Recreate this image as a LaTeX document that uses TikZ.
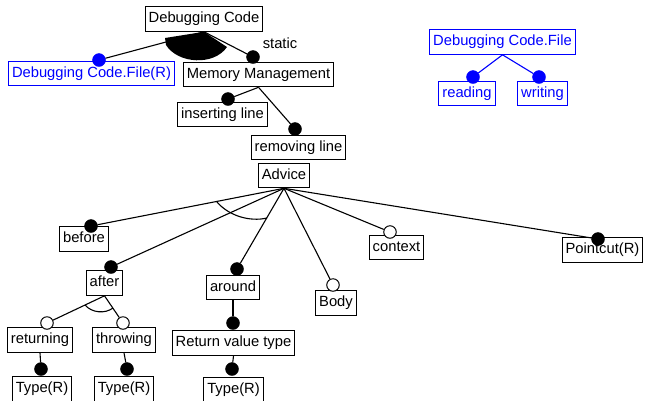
\documentclass[tikz,border=0pt]{standalone}
\usepackage{fontspec}
\setmainfont{Liberation Sans}
\usepackage{xcolor}
\usepackage{tikz}
\usetikzlibrary{calc}

\begin{document}
\begin{tikzpicture}[x=1bp,y=-1bp,
		feat/.style={draw,line width=1.1bp,rectangle,font=\fontsize{14.8}{17}\selectfont,text height=11bp,text depth=3.5bp,inner xsep=3.5bp,inner ysep=5bp},
		bfeat/.style={feat,draw=blue,text=blue},
		mand/.style={circle,fill=black,draw=black,inner sep=0pt,minimum size=13bp},
		opt/.style={circle,fill=white,draw=black,line width=1bp,inner sep=0pt,minimum size=12.5bp},
		bmand/.style={mand,fill=blue,draw=blue},
		edge/.style={line width=1.1bp}]
		\useasboundingbox (0,0) rectangle (646,400);
		% features
		\node[feat] (dc) at (204,19) {Debugging Code};
		\node[bfeat] (dcfr) at (91.5,73.5) {Debugging Code.File(R)};
		\node[feat] (mm) at (258.5,74.5) {Memory Management};
		\node[feat] (ins) at (222.5,114.5) {inserting line};
		\node[feat] (rem) at (298.5,147.5) {removing line};
		\node[feat] (adv) at (284,175.5) {Advice};
		\node[feat] (before) at (84,239) {before};
		\node[feat] (after) at (104.5,283) {after};
		\node[feat] (around) at (233,287.5) {around};
		\node[feat] (body) at (336,303) {Body};
		\node[feat] (context) at (396.5,247.5) {context};
		\node[feat] (pcut) at (602.5,250) {Pointcut(R)};
		\node[feat] (ret) at (40,340) {returning};
		\node[feat] (thr) at (124,340) {throwing};
		\node[feat] (rvt) at (233.5,343) {Return value type};
		\node[feat] (t1) at (42,389) {Type(R)};
		\node[feat] (t2) at (124,389) {Type(R)};
		\node[feat] (t3) at (233.5,390) {Type(R)};
		\node[bfeat] (dcf) at (502.5,42) {Debugging Code.File};
		\node[bfeat] (read) at (467,93.5) {reading};
		\node[bfeat] (write) at (542.5,93.5) {writing};
		\node[font=\fontsize{14.8}{17}\selectfont] (static) at (280,43) {static};
		% dots
		\node[bmand] (dcfr-d) at (99,60) {};
		\node[mand] (mm-d) at (253,57) {};
		\node[mand] (ins-d) at (228,99) {};
		\node[mand] (rem-d) at (295,129) {};
		\node[mand] (before-d) at (91,226) {};
		\node[mand] (after-d) at (111,267) {};
		\node[mand] (around-d) at (237,269) {};
		\node[opt] (body-d) at (333,285) {};
		\node[opt] (context-d) at (390,232) {};
		\node[mand] (pcut-d) at (598,239) {};
		\node[opt] (ret-d) at (47,323) {};
		\node[opt] (thr-d) at (123,323) {};
		\node[mand] (rvt-d) at (233,323) {};
		\node[mand] (t1-d) at (41,369) {};
		\node[mand] (t2-d) at (127,369) {};
		\node[mand] (t3-d) at (232,369) {};
		\node[bmand] (read-d) at (473,77) {};
		\node[bmand] (write-d) at (539,77) {};
		% connectors
		\fill (dc.south) -- (165,38) -- (166,45) .. controls (178,64) and (214,66) .. (227,47) -- cycle;
		\draw[edge] (dc.south) -- (dcfr-d);
		\draw[edge] (dc.south) -- (mm-d);
		\draw[edge] (mm.south) -- (ins-d);
		\draw[edge] (mm.south) -- (rem-d);
		\draw[edge] (adv.south) -- (before-d);
		\draw[edge] (adv.south) -- (after-d);
		\draw[edge] (adv.south) -- (around-d);
		\draw[edge] (adv.south) -- (body-d);
		\draw[edge] (adv.south) -- (context-d);
		\draw[edge] (adv.south) -- (pcut-d);
		\draw[edge] (217,202) .. controls (229,216) and (250,222) .. (267,218);
		\draw[edge] (after.south) -- (ret-d);
		\draw[edge] (after.south) -- (thr-d);
		\draw[edge] (85,305) .. controls (92,313) and (105,314) .. (113,308);
		\draw[edge] (ret.south) -- (t1-d);
		\draw[edge] (thr.south) -- (t2-d);
		\draw[edge] (around.south) -- (rvt-d);
		\draw[edge] (rvt.south) -- (t3-d);
		\draw[edge,blue] (dcf.south) -- (read-d);
		\draw[edge,blue] (dcf.south) -- (write-d);
	\end{tikzpicture}
\end{document}
